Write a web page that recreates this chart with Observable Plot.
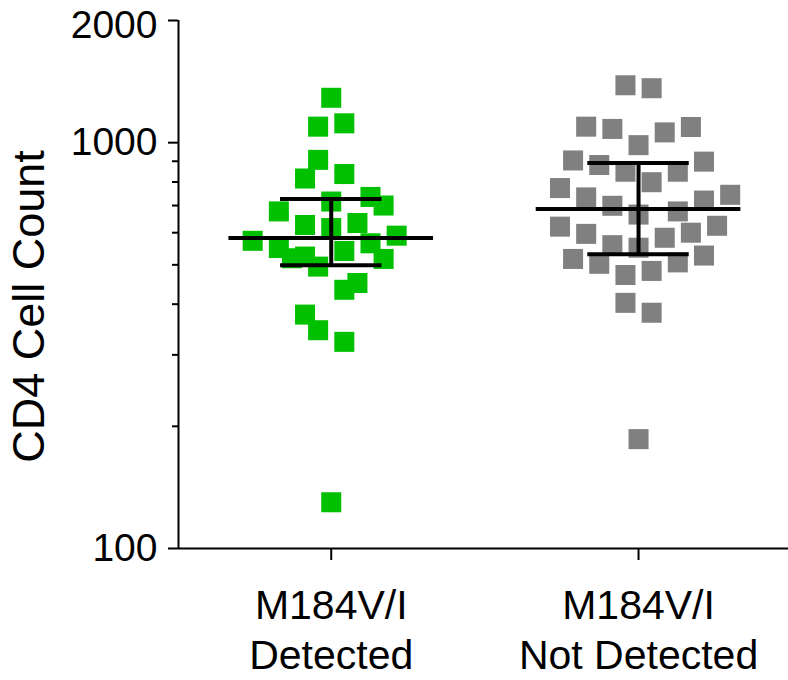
<!DOCTYPE html>
<html>
<head>
<meta charset="utf-8">
<script src="https://cdn.jsdelivr.net/npm/d3@7"></script>
<script src="https://cdn.jsdelivr.net/npm/@observablehq/plot@0.6"></script>
<style>
  html, body { margin: 0; padding: 0; background: #fff; }
  #chart svg { display: block; }
</style>
</head>
<body>
<div id="chart"></div>
<script>
// ---- data ----
const groups = ["M184V/I\nDetected", "M184V/I\nNot Detected"];
const yTickValues = [100, 1000, 2000];
const yMinorTicks = [200, 300, 400, 500, 600, 700, 800, 900];
const yTitle = "CD4 Cell Count";

// CD4 counts, group "Detected" (green) and scatter column of each point
const detectedCD4 = [1290, 1095, 1116, 907, 816, 837, 735, 700, 716, 677, 627, 616, 634, 590,
  573, 550, 519, 524, 495, 541, 565, 517, 451, 434, 377, 345, 323, 130];
const detectedCol = [0, -1, 1, -1, -2, 1, 3, 4, 0, -4, -2, 0, 2, 5,
  -6, -4, -3, -2, -1, 1, 3, 4, 2, 1, -2, -1, 1, 0];

// CD4 counts, group "Not Detected" (grey) and scatter column of each point
const notDetectedCD4 = [1385, 1362, 1095, 1081, 1060, 1093, 986, 904, 881, 848, 799, 848, 898,
  773, 733, 699, 665, 677, 720, 744, 621, 596, 559, 551, 583, 600, 624,
  517, 503, 472, 483, 507, 527, 403, 381, 186];
const notDetectedCol = [-1, 1, -4, -2, 2, 4, 0, -5, -3, -1, 1, 3, 5,
  -6, -4, -2, 0, 3, 5, 7, -6, -4, -2, 0, 2, 4, 6,
  -5, -3, -1, 1, 3, 5, -1, 1, 0];

// summary lines (centre line with lower / upper bars)
const centreValues = [582, 686];
const lowValues = [499, 531];
const highValues = [726, 891];

const groupColors = ["#00c000", "#808080"];

// ---- build tables ----
const JITTER = 0.0426;
const points = [
  ...detectedCD4.map((v, i) => ({g: 0, col: detectedCol[i], v})),
  ...notDetectedCD4.map((v, i) => ({g: 1, col: notDetectedCol[i], v}))
];
const stats = groups.map((name, g) => ({g, centre: centreValues[g], low: lowValues[g], high: highValues[g]}));

const font = "'Liberation Sans', Arial, Helvetica, sans-serif";
const xDomain = [-0.497, 1.488];
const yMax = yTickValues[yTickValues.length - 1];

const chart = Plot.plot({
  width: 788,
  height: 680,
  marginLeft: 178,
  marginRight: 0,
  marginTop: 20,
  marginBottom: 132,
  style: {fontFamily: font, fontSize: "39px", color: "#000", background: "#fff", overflow: "visible"},
  x: {type: "linear", domain: xDomain, axis: null},
  y: {type: "log", domain: [100, yMax], axis: null},
  marks: [
    // points
    Plot.dot(points, {
      x: d => d.g + d.col * JITTER,
      y: "v",
      symbol: "square",
      r: 11.3,
      fill: d => groupColors[d.g],
      stroke: "none"
    }),
    // summary bars
    Plot.ruleX(stats, {x: "g", y1: "low", y2: "high", stroke: "#000", strokeWidth: 4}),
    Plot.ruleY(stats, {y: "centre", x1: d => d.g - 0.333, x2: d => d.g + 0.333, stroke: "#000", strokeWidth: 4}),
    Plot.ruleY(stats, {y: "low", x1: d => d.g - 0.165, x2: d => d.g + 0.165, stroke: "#000", strokeWidth: 4}),
    Plot.ruleY(stats, {y: "high", x1: d => d.g - 0.165, x2: d => d.g + 0.165, stroke: "#000", strokeWidth: 4}),
    // axis lines
    Plot.ruleX([xDomain[0]], {y1: 100, y2: yMax, stroke: "#000", strokeWidth: 2}),
    Plot.ruleY([100], {stroke: "#000", strokeWidth: 2}),
    // y axis: major ticks (top label drawn separately, nudged down as in the reference)
    Plot.axisY({ticks: yTickValues, tickSize: 10, tickPadding: 11,
      tickFormat: d => (d === yMax ? "" : String(d)), fontSize: 39, label: null, strokeWidth: 2}),
    Plot.axisY({ticks: [yMax], tickSize: 0, tickPadding: 21, tickFormat: d => String(d),
      fontSize: 39, label: null, dy: 5}),
    Plot.axisY({ticks: yMinorTicks, tickSize: 6, tickFormat: () => "", label: null, strokeWidth: 2}),
    // x axis
    Plot.axisX({ticks: [0, 1], tickSize: 12, tickPadding: 23, tickFormat: i => groups[i],
      fontSize: 41, lineHeight: 1.22, label: null, strokeWidth: 2}),
    // y title
    Plot.text([yTitle], {frameAnchor: "left", textAnchor: "middle", rotate: -90, dx: -149, dy: 22,
      fontSize: 45, text: d => d, fill: "#000"})
  ]
});
document.getElementById("chart").appendChild(chart);
</script>
</body>
</html>
